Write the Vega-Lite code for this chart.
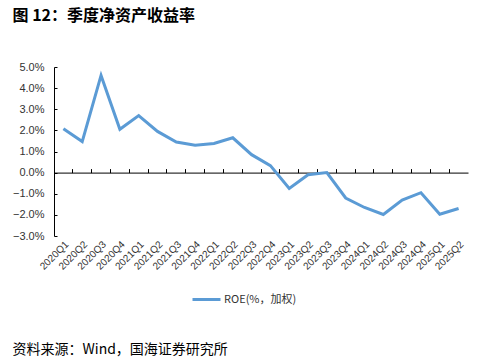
{
  "$schema": "https://vega.github.io/schema/vega-lite/v6.json",
  "padding": {"left": 12, "top": 8, "right": 1, "bottom": 4},
  "title": {"text": "资料来源：Wind，国海证券研究所", "orient": "bottom", "anchor": "start", "frame": "bounds", "fontSize": 14, "fontWeight": "normal", "font": "Noto Sans CJK SC", "color": "#000000", "offset": 37},
  "config": {"view": {"stroke": null}, "font": "Liberation Sans"},
  "vconcat": [
    {
      "width": 414,
      "height": 169,
      "title": {"text": "图 12：季度净资产收益率", "anchor": "start", "frame": "bounds", "fontSize": 16, "font": "Noto Sans CJK SC", "fontWeight": "bold", "offset": 37, "color": "#000000"},
      "data": {"values": [
        {"q": "2020Q1", "v": 2.08},
        {"q": "2020Q2", "v": 1.47},
        {"q": "2020Q3", "v": 4.6},
        {"q": "2020Q4", "v": 2.05},
        {"q": "2021Q1", "v": 2.7},
        {"q": "2021Q2", "v": 1.95},
        {"q": "2021Q3", "v": 1.45},
        {"q": "2021Q4", "v": 1.3},
        {"q": "2022Q1", "v": 1.38},
        {"q": "2022Q2", "v": 1.65},
        {"q": "2022Q3", "v": 0.85},
        {"q": "2022Q4", "v": 0.33},
        {"q": "2023Q1", "v": -0.75},
        {"q": "2023Q2", "v": -0.1},
        {"q": "2023Q3", "v": 0.0},
        {"q": "2023Q4", "v": -1.2},
        {"q": "2024Q1", "v": -1.65},
        {"q": "2024Q2", "v": -1.98},
        {"q": "2024Q3", "v": -1.3},
        {"q": "2024Q4", "v": -0.95},
        {"q": "2025Q1", "v": -1.97},
        {"q": "2025Q2", "v": -1.7}
      ]},
      "layer": [
        {
          "mark": {"type": "line", "opacity": 0},
          "encoding": {
            "x": {"field": "q", "type": "ordinal", "sort": null,
              "scale": {"type": "band", "paddingInner": 0, "paddingOuter": 0},
              "axis": {"orient": "top", "offset": -105.6, "title": null, "labels": false, "bandPosition": 0, "domainColor": "#000000", "tickColor": "#000000", "tickSize": 4, "domainWidth": 1}},
            "y": {"field": "v", "type": "quantitative", "scale": {"domain": [-3, 5], "nice": false},
              "axis": {"title": null, "values": [-3, -2, -1, 0, 1, 2, 3, 4, 5], "labelExpr": "format(datum.value, '.1f') + '%'", "grid": false, "domainColor": "#000000", "tickColor": "#000000", "tickSize": -3, "labelPadding": 13, "labelFontSize": 11, "labelColor": "#333333"}}
          }
        },
        {
          "mark": {"type": "line", "strokeWidth": 3},
          "encoding": {
            "x": {"field": "q", "type": "ordinal", "sort": null,
              "scale": {"type": "band", "paddingInner": 0, "paddingOuter": 0},
              "axis": {"orient": "bottom", "title": null, "domain": false, "ticks": false, "labelAngle": -45, "labelFontSize": 10, "labelColor": "#333333", "labelPadding": 3}},
            "y": {"field": "v", "type": "quantitative", "scale": {"domain": [-3, 5], "nice": false},
              "axis": {"title": null, "values": [-3, -2, -1, 0, 1, 2, 3, 4, 5], "labelExpr": "format(datum.value, '.1f') + '%'", "grid": false, "domainColor": "#000000", "tickColor": "#000000", "tickSize": -3, "labelPadding": 13, "labelFontSize": 11, "labelColor": "#333333"}},
            "color": {"datum": "ROE(%，加权)", "type": "nominal", "scale": {"range": ["#5B9BD5"]},
              "legend": {"title": null, "orient": "none", "legendX": 137, "legendY": 217, "symbolType": "stroke", "symbolSize": 784, "symbolStrokeWidth": 3, "labelFontSize": 11, "labelFont": "Noto Sans CJK SC", "labelColor": "#333333", "labelOffset": 2}}
          }
        }
      ],
      "resolve": {"axis": {"x": "independent"}}
    }
  ]
}
